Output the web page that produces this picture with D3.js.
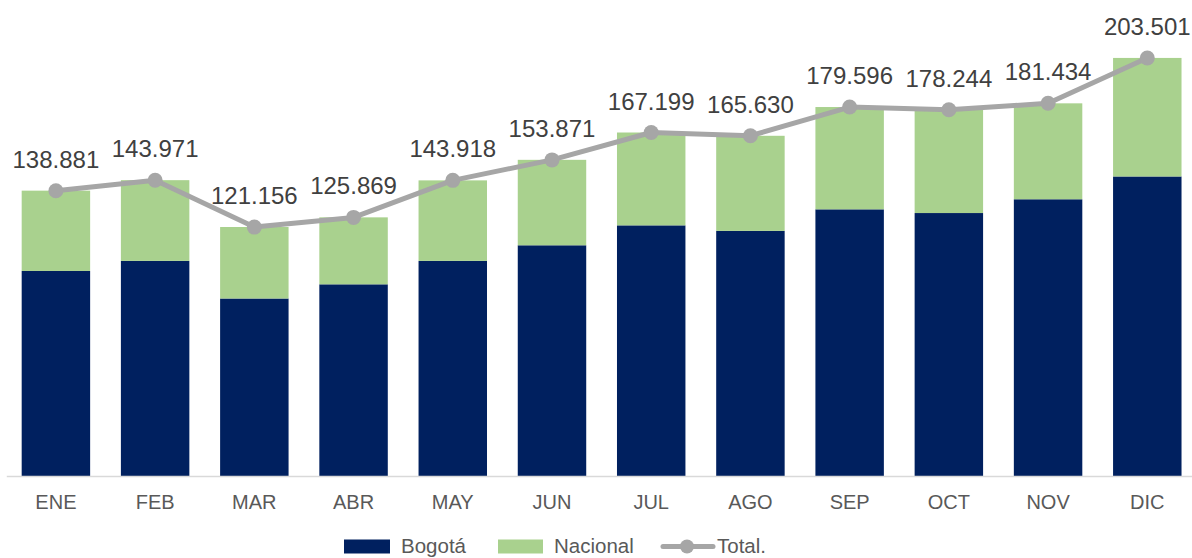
<!DOCTYPE html>
<html><head><meta charset="utf-8">
<script src="https://cdn.jsdelivr.net/npm/d3@7"></script>
<style>body{margin:0;background:#fff}svg{display:block}text{font-family:"Liberation Sans",Arial,sans-serif}</style>
</head><body><svg id="c" width="1192" height="558"></svg>
<script>
const categories = ["ENE","FEB","MAR","ABR","MAY","JUN","JUL","AGO","SEP","OCT","NOV","DIC"];
const bogota   = [99.8,104.7,86.4,93.3,104.7,112.3,122.0,119.3,129.8,128.0,134.7,145.8];
const nacional = [39.1,39.3,34.8,32.6,39.2,41.6,45.2,46.3,49.8,50.2,46.7,57.7];
const total    = [138.881,143.971,121.156,125.869,143.918,153.871,167.199,165.630,179.596,178.244,181.434,203.501];
const legendLabels = ["Bogotá","Nacional","Total."];

const svg = d3.select("#c");
const x = d3.scaleBand().domain(categories).range([6.3,1196.9]).paddingInner(0.31).paddingOuter(0.155);
const y = d3.scaleLinear().domain([0,231.7]).range([476,0]);
const cBog="#00205f", cNac="#a9d18e", cTot="#a6a6a6";

const g = svg.append("g");
g.selectAll(".b").data(categories).join("rect")
  .attr("x",d=>x(d)).attr("width",x.bandwidth())
  .attr("y",(d,i)=>y(bogota[i])).attr("height",(d,i)=>y(0)-y(bogota[i])).attr("fill",cBog);
g.selectAll(".n").data(categories).join("rect")
  .attr("x",d=>x(d)).attr("width",x.bandwidth())
  .attr("y",(d,i)=>y(bogota[i]+nacional[i])).attr("height",(d,i)=>y(bogota[i])-y(bogota[i]+nacional[i])).attr("fill",cNac);

// axis
const ax = svg.append("g").attr("transform",`translate(0,${y(0)})`)
  .call(d3.axisBottom(x).tickSize(0).tickPadding(19));
ax.select(".domain").attr("stroke","#d9d9d9").attr("stroke-width",1.5);
ax.selectAll("text").attr("font-size",20).attr("fill","#595959").attr("font-family","Liberation Sans, Arial, sans-serif");

// line
const cx = d=>x(d)+x.bandwidth()/2;
const line = d3.line().x((d,i)=>cx(categories[i])).y(d=>y(d));
svg.append("path").datum(total).attr("d",line).attr("fill","none").attr("stroke",cTot).attr("stroke-width",5).attr("stroke-linejoin","round");
svg.selectAll(".pt").data(total).join("circle").attr("cx",(d,i)=>cx(categories[i])).attr("cy",d=>y(d)).attr("r",7.5).attr("fill",cTot);
svg.selectAll(".lb").data(total).join("text").attr("x",(d,i)=>cx(categories[i])).attr("y",d=>y(d)-23)
  .attr("text-anchor","middle").attr("font-size",24).attr("fill","#404040").text(d=>d.toFixed(3));

// legend
const lg = svg.append("g");
lg.append("rect").attr("x",344).attr("y",539.5).attr("width",46).attr("height",14).attr("fill",cBog);
lg.append("text").attr("x",401).attr("y",553).attr("font-size",20.5).attr("fill","#595959").text(legendLabels[0]);
lg.append("rect").attr("x",498).attr("y",539.5).attr("width",45).attr("height",14).attr("fill",cNac);
lg.append("text").attr("x",554).attr("y",553).attr("font-size",20.5).attr("fill","#595959").text(legendLabels[1]);
lg.append("line").attr("x1",663).attr("x2",713).attr("y1",546.5).attr("y2",546.5).attr("stroke",cTot).attr("stroke-width",5).attr("stroke-linecap","round");
lg.append("circle").attr("cx",687).attr("cy",546.5).attr("r",7).attr("fill",cTot);
lg.append("text").attr("x",717).attr("y",553).attr("font-size",20.5).attr("fill","#595959").text(legendLabels[2]);
</script></body></html>
